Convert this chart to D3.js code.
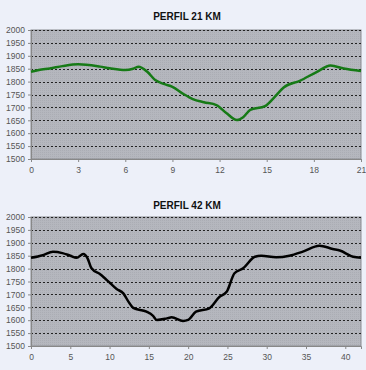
<!DOCTYPE html>
<html><head><meta charset="utf-8">
<script src="https://cdn.jsdelivr.net/npm/d3@7"></script>
<style>
html,body{margin:0;padding:0;background:#edf0f9;}
svg{display:block;}
</style></head>
<body>
<svg id="c" width="366" height="370"></svg>
<script>
const title21 = "PERFIL 21 KM";
const title42 = "PERFIL 42 KM";
const yTicks = [1500,1550,1600,1650,1700,1750,1800,1850,1900,1950,2000];
const xTicks21 = [0,3,6,9,12,15,18,21];
const xTicks42 = [0,5,10,15,20,25,30,35,40];
const km21 = [0,0.5,1.2,2,3,4.4,5,6,6.5,6.85,7.4,7.9,8.5,9,9.7,10.3,11,11.8,12.45,13.1,13.5,13.95,14.9,15.5,16.1,17.1,18.2,19.06,19.9,21];
const alt21 = [1838,1845,1851,1860,1867,1858,1852,1845,1850,1858,1838,1806,1790,1780,1752,1732,1720,1709,1677,1651,1662,1690,1705,1740,1778,1803,1838,1862,1851,1841];
const km42 = [0,1.5,2.8,4,5,5.8,6.66,7.2,7.7,8.8,10.1,10.9,11.75,12.4,13,14.7,15.5,16,17.3,17.9,19.35,20,21,22.7,24,24.9,25.9,27,28.5,29.3,31.2,32.9,34.6,36.7,38.4,39.3,41,42];
const alt42 = [1842,1852,1865,1860,1850,1842,1857,1840,1801,1778,1743,1721,1704,1672,1648,1633,1618,1601,1607,1611,1597,1601,1633,1646,1691,1710,1782,1801,1846,1850,1844,1850,1866,1889,1876,1870,1846,1842];

const svg = d3.select("#c");
const defs = svg.append("defs");
const pat = defs.append("pattern").attr("id","tex").attr("width",2).attr("height",2).attr("patternUnits","userSpaceOnUse");
pat.append("rect").attr("width",2).attr("height",2).attr("fill","#b5b7be");
pat.append("rect").attr("width",1).attr("height",1).attr("fill","#abadb4");

function chart(top, bottom, xMax, xTicks, km, alt, color, title, titleY){
  const x = d3.scaleLinear().domain([0,xMax]).range([31,361]);
  const y = d3.scaleLinear().domain([1500,2000]).range([bottom, top]);
  const g = svg.append("g");
  g.append("text").attr("x",187).attr("y",titleY).attr("text-anchor","middle")
    .attr("font-family","Liberation Sans, Arial, sans-serif").attr("font-weight","bold")
    .attr("font-size",10).attr("fill","#111").text(title);
  g.append("rect").attr("x",x(0)).attr("y",top).attr("width",x(xMax)-x(0)).attr("height",bottom-top)
    .attr("fill","url(#tex)").attr("stroke","#8a8c92").attr("stroke-width",1);
  g.selectAll("line.grid").data(yTicks.slice(1)).join("line").attr("class","grid")
    .attr("x1",x(0)).attr("x2",x(xMax)).attr("y1",d=>Math.round(y(d))+0.5).attr("y2",d=>Math.round(y(d))+0.5)
    .attr("stroke","#222").attr("stroke-width",1).attr("stroke-dasharray","2,2");
  const ya = d3.axisLeft(y).tickValues(yTicks).tickSize(3).tickPadding(3).tickFormat(d3.format("d"));
  const ag = g.append("g").attr("transform",`translate(${x(0)},0)`).call(ya);
  ag.select(".domain").attr("stroke","#888");
  ag.selectAll(".tick line").attr("stroke","#888");
  ag.selectAll("text").attr("font-family","Liberation Sans, Arial, sans-serif").attr("font-size",8.5).attr("fill","#555");
  const xa = d3.axisBottom(x).tickValues(xTicks).tickSize(3).tickPadding(5).tickFormat(d3.format("d"));
  const bg = g.append("g").attr("transform",`translate(0,${bottom})`).call(xa);
  bg.select(".domain").attr("stroke","#888");
  bg.selectAll(".tick line").attr("stroke","#888");
  bg.selectAll("text").attr("font-family","Liberation Sans, Arial, sans-serif").attr("font-size",8.5).attr("fill","#555");
  const pts = km.map((k,i)=>[k,alt[i]]);
  g.append("path").datum(pts)
    .attr("d", d3.line().x(d=>x(d[0])).y(d=>y(d[1])).curve(d3.curveMonotoneX))
    .attr("fill","none").attr("stroke",color).attr("stroke-width",2.5).attr("stroke-linejoin","round");
}
chart(30,159,21,xTicks21,km21,alt21,"#167a16",title21,20);
chart(217,346,42,xTicks42,km42,alt42,"#000",title42,209);
</script>
</body></html>
